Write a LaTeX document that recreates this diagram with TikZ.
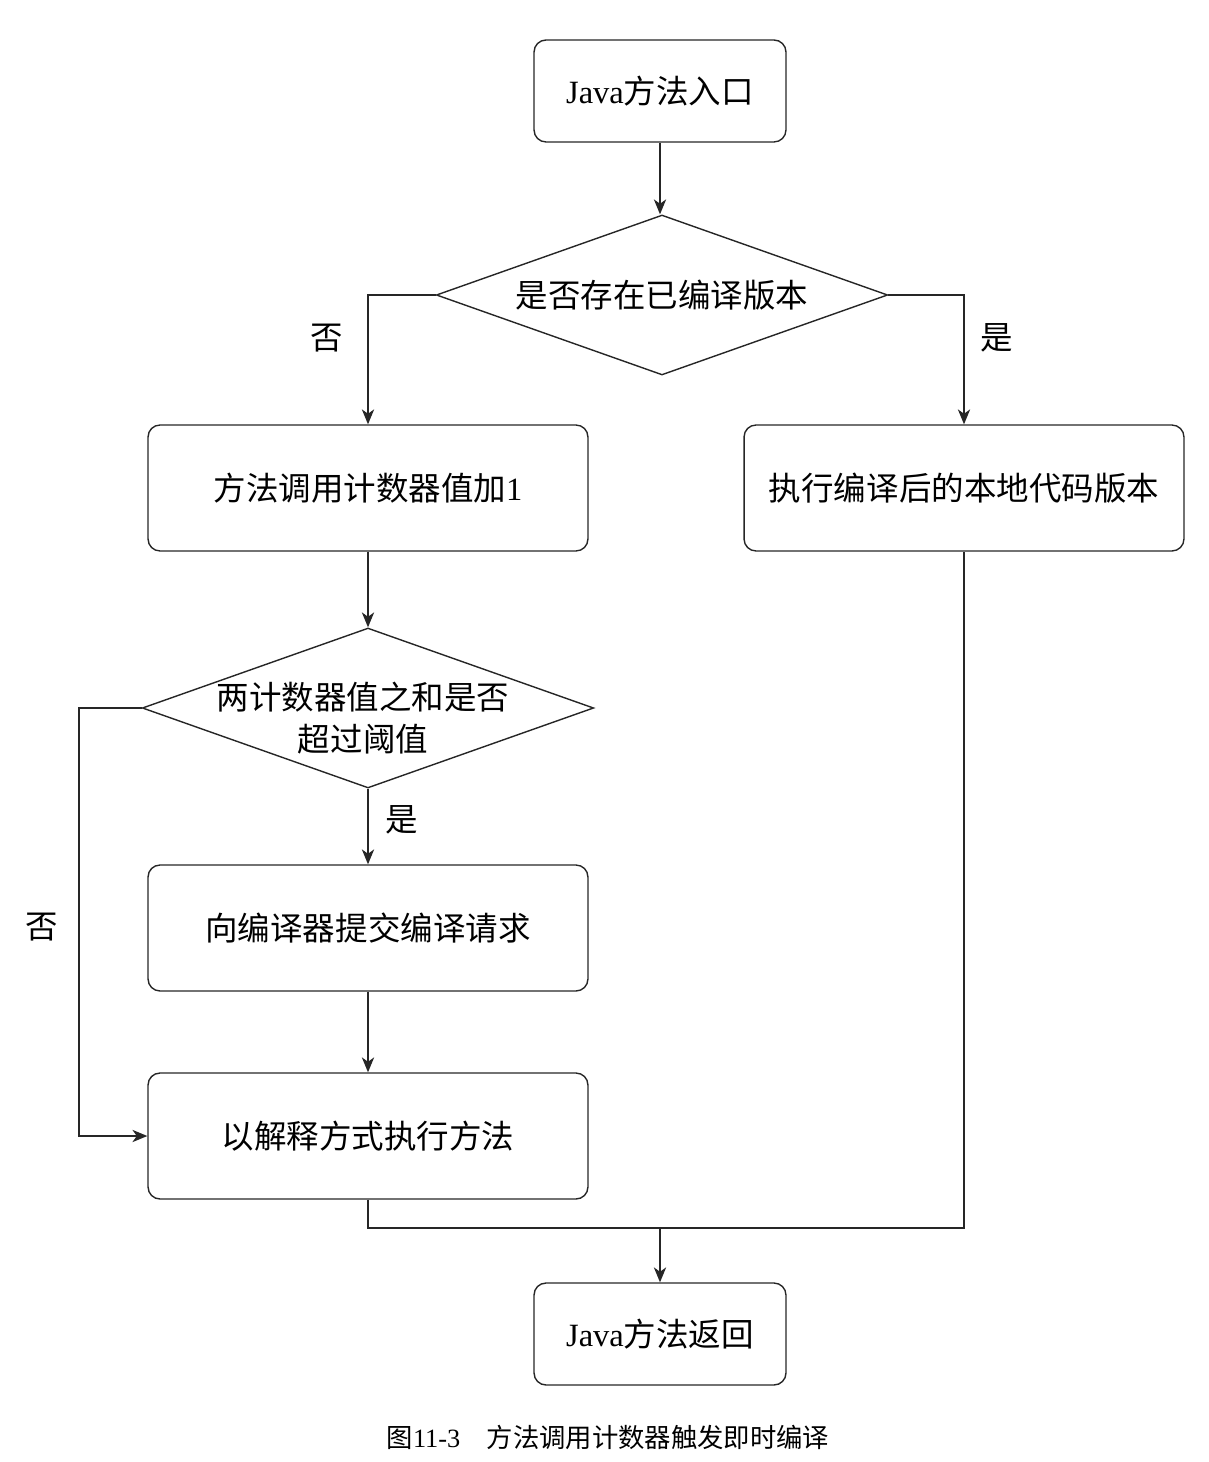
\documentclass[tikz,border=0pt]{standalone}
\usepackage{fontspec}
\setmainfont{Liberation Serif}
\newfontfamily\cjk{Noto Sans CJK SC}
\usetikzlibrary{shapes.geometric,arrows.meta}
\tikzset{
  flowbox/.style={draw=black!85, line width=0.8pt, rounded corners=0.24cm, align=center,
    font=\fontsize{18.5}{24}\selectfont\cjk},
  endbox/.style={flowbox, minimum width=5.04cm, minimum height=2.04cm},
  stepbox/.style={flowbox, minimum width=8.8cm, minimum height=2.52cm},
  decision/.style={draw=black!85, line width=0.8pt, diamond, minimum width=9.03cm,
    minimum height=3.2cm, inner sep=0pt},
  dtext/.style={align=center, font=\fontsize{18.5}{24}\selectfont\cjk},
  lbl/.style={font=\fontsize{18.5}{24}\selectfont\cjk},
  flow/.style={draw=black!85, line width=0.8pt, -{Stealth[length=8.5pt, width=7pt, inset=2.5pt]}},
  plain/.style={draw=black!85, line width=0.8pt}
}
\begin{document}
\begin{tikzpicture}[x=0.02cm, y=-0.02cm]
  \useasboundingbox (0,0) rectangle (1208,1462);
  % boxes
  \node[endbox] (entry) at (660,91) {{\rmfamily Java}方法入口};
  \node[decision, label={[dtext]center:是否存在已编译版本}] (compiled) at (662,295) {};
  \node[stepbox] (count) at (368,488) {方法调用计数器值加{\rmfamily 1}};
  \node[stepbox] (native) at (964,488) {执行编译后的本地代码版本};
  \node[decision, label={[dtext, xshift=-0.1cm, yshift=-0.2cm]center:两计数器值之和是否\\超过阈值}] (threshold) at (368,708) {};
  \node[stepbox] (submit) at (368,928) {向编译器提交编译请求};
  \node[stepbox] (interp) at (368,1136) {以解释方式执行方法};
  \node[endbox] (ret) at (660,1334) {{\rmfamily Java}方法返回};
  \coordinate (merge) at (660,1228);
  % connectors
  \draw[flow] (entry) -- (entry |- compiled.north);
  \draw[flow] (compiled.west) -| (count.north);
  \draw[flow] (compiled.east) -| (native.north);
  \node[lbl] (no1) at (327,338) {否};
  \node[lbl] (yes1) at (997,338) {是};
  \draw[flow] (count) -- (threshold.north);
  \draw[flow] (threshold.south) -- (submit.north);
  \node[lbl] (yes2) at (402,820) {是};
  \draw[flow] (threshold.west) -- (79,708) |- (interp.west);
  \node[lbl] (no2) at (42,927) {否};
  \draw[flow] (submit) -- (interp);
  \draw[plain] (interp.south) |- (merge) -| (native.south);
  \draw[flow] (merge) -- (ret.north);
  % caption
  \node[font=\fontsize{15}{18}\selectfont] (caption) at (608,1437) {{\cjk 图}11-3\hspace{1em}{\cjk 方法调用计数器触发即时编译}};
\end{tikzpicture}
\end{document}
